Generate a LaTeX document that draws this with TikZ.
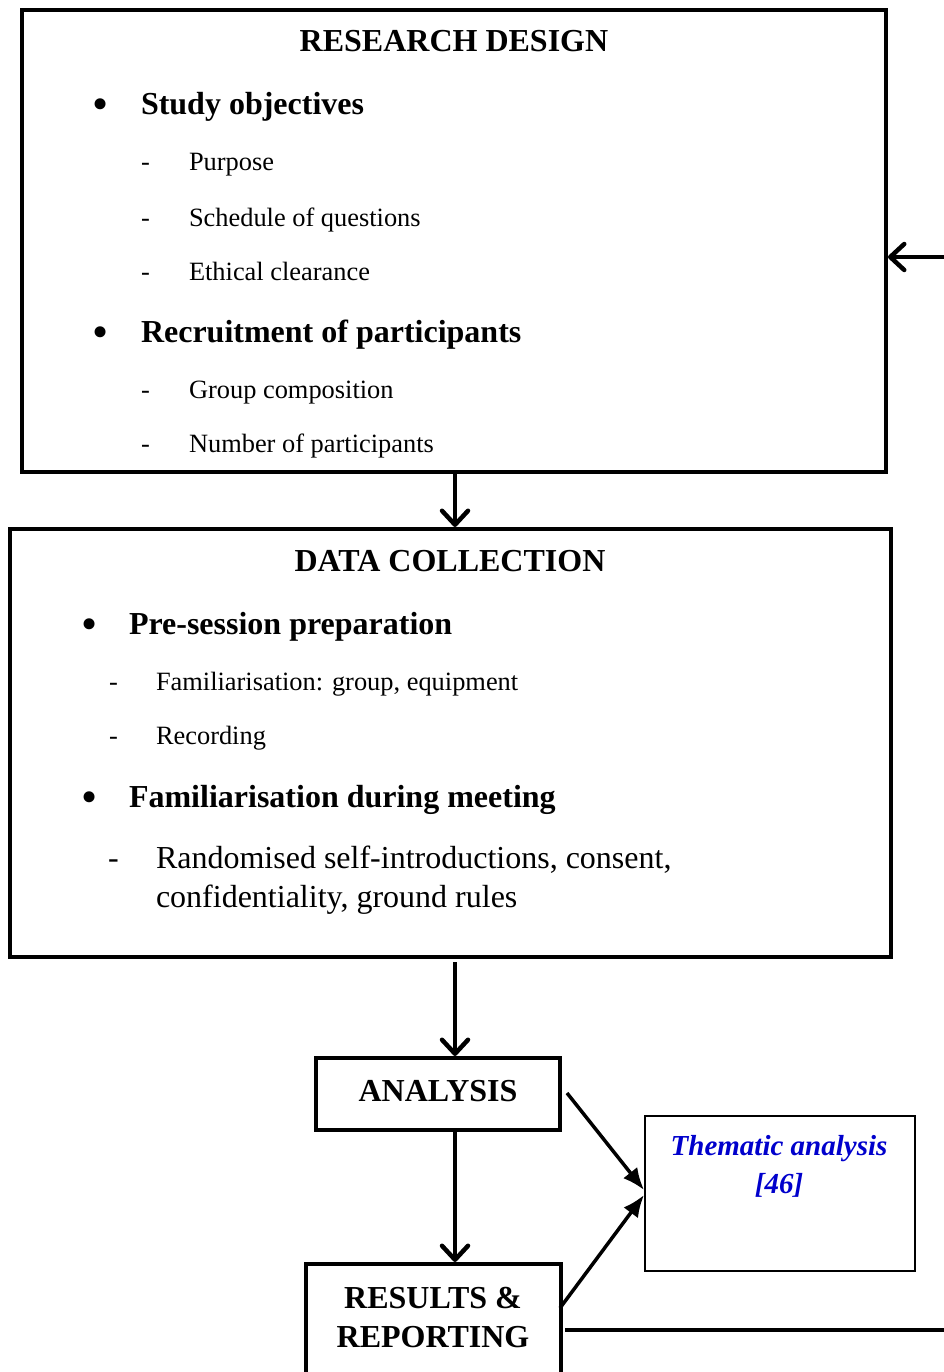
\documentclass[tikz,border=0pt]{standalone}
\usepackage{fontspec}
\setmainfont{Liberation Serif}
\usetikzlibrary{arrows.meta}
\definecolor{refblue}{RGB}{0,0,204}
\begin{document}
\begin{tikzpicture}[x=1pt,y=-1pt,
  frame/.style={draw, line width=4pt, inner sep=0pt},
  thinframe/.style={draw, line width=2pt, inner sep=0pt},
  txt/.style={inner sep=0pt, outer sep=0pt},
  title/.style={txt, anchor=base, font=\fontsize{32}{38}\selectfont\bfseries},
  dot/.style={txt, anchor=base, font=\fontsize{46}{50}\selectfont},
  item/.style={txt, anchor=base west, font=\fontsize{32}{38}\selectfont\bfseries},
  subitem/.style={txt, anchor=base west, font=\fontsize{26.4}{32}\selectfont},
  bigsubitem/.style={txt, anchor=base west, font=\fontsize{32}{38}\selectfont},
  note/.style={txt, anchor=base, text=refblue, font=\fontsize{29}{35}\selectfont\bfseries\itshape},
  flow/.style={line width=4.5pt, -{Straight Barb[length=14pt,width=26pt,round]}},
  link/.style={line width=3.5pt, -{Latex[length=22pt,width=18pt]}}
]
\useasboundingbox (0,0) rectangle (944,1372);
\clip (0,0) rectangle (944,1372);

% boxes
\node[frame, minimum width=864pt, minimum height=462pt] (box1) at (454,241) {};
\node[frame, minimum width=881pt, minimum height=428pt] (box2) at (450.5,743) {};
\node[frame, minimum width=244pt, minimum height=72pt]  (box3) at (438,1094) {};
\node[frame, minimum width=255pt, minimum height=132pt] (box4) at (433.5,1330) {};
\node[thinframe, minimum width=270pt, minimum height=155pt] (box5) at (780,1193.5) {};

% research design
\node[title] (t1) at (454,52) {RESEARCH DESIGN};
\node[dot] (b11) at (101,120) {\textbullet};
\node[item] (i11) at (141,115) {Study objectives};
\node[subitem] (d111) at (141,171) {-};
\node[subitem] (s111) at (189,171) {Purpose};
\node[subitem] (d112) at (141,226) {-};
\node[subitem] (s112) at (189,226) {Schedule of questions};
\node[subitem] (d113) at (141,280) {-};
\node[subitem] (s113) at (189,280) {Ethical clearance};
\node[dot] (b12) at (101,347) {\textbullet};
\node[item] (i12) at (141,342) {Recruitment of participants};
\node[subitem] (d121) at (141,398) {-};
\node[subitem] (s121) at (189,398) {Group composition};
\node[subitem] (d122) at (141,452) {-};
\node[subitem] (s122) at (189,452) {Number of participants};

% data collection
\node[title] (t2) at (450,571) {DATA COLLECTION};
\node[dot] (b21) at (90,639) {\textbullet};
\node[item] (i21) at (129,634) {Pre-session preparation};
\node[subitem] (d211) at (109,690) {-};
\node[subitem] (s211) at (156,690) {Familiarisation: group, equipment};
\node[subitem] (d212) at (109,744) {-};
\node[subitem] (s212) at (156,744) {Recording};
\node[dot] (b22) at (90,812) {\textbullet};
\node[item] (i22) at (129,807) {Familiarisation during meeting};
\node[bigsubitem] (d221) at (108,868) {-};
\node[bigsubitem] (s221) at (156,868) {Randomised self-introductions, consent,};
\node[bigsubitem] (s222) at (156,907) {confidentiality, ground rules};

% analysis and results
\node[title] (t3) at (438,1101) {ANALYSIS};
\node[title] (t4a) at (433,1308) {RESULTS \&};
\node[title] (t4b) at (433,1347) {REPORTING};
\node[note] (t5a) at (779,1155) {Thematic analysis};
\node[note] (t5b) at (779,1193) {[46]};

% connectors
\coordinate (spine) at (455,0);
\draw[flow] (box1.south -| spine) -- (box2.north -| spine);
\draw[flow] ([yshift=-3pt]box2.south -| spine) -- (box3.north -| spine);
\draw[flow] (box3.south -| spine) -- (box4.north -| spine);
\draw[link] ([xshift=5pt,yshift=1pt]box3.east) -- ([yshift=3.5pt]box5.west);
\draw[link] ([xshift=-3pt,yshift=22pt]box4.east) -- ([yshift=-1.5pt]box5.west);

% feedback loop back to the design stage
\coordinate (fbdown) at (975,1330);
\coordinate (fbup) at (975,257);
\draw[flow] ([xshift=2pt]box4.east) -- (fbdown) -- (fbup) -- (box1.east |- fbup);
\end{tikzpicture}
\end{document}
